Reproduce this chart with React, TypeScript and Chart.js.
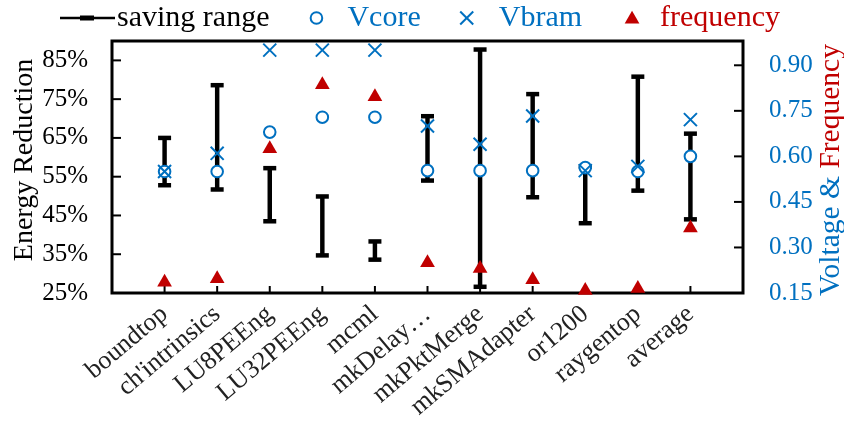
import React, { useEffect, useRef } from 'react';
import { Chart, registerables } from 'chart.js';

Chart.register(...registerables);

const categories = ['boundtop', "ch'intrinsics", 'LU8PEEng', 'LU32PEEng', 'mcml', 'mkDelay…', 'mkPktMerge', 'mkSMAdapter', 'or1200', 'raygentop', 'average'];
const savingLow = [52.8, 51.7, 43.5, 34.7, 33.6, 54.0, 26.6, 49.7, 43.0, 51.4, 44.0];
const savingHigh = [65.0, 78.6, 57.2, 49.9, 38.3, 70.6, 87.8, 76.3, 57.6, 80.8, 66.1];
const vcore = [0.55, 0.55, 0.68, 0.729, 0.729, 0.553, 0.553, 0.553, 0.563, 0.55, 0.6];
const vbram = [0.55, 0.61, 0.95, 0.95, 0.95, 0.7, 0.64, 0.733, 0.553, 0.567, 0.721];
const frequency = [0.185, 0.197, 0.625, 0.836, 0.796, 0.25, 0.231, 0.194, 0.158, 0.165, 0.364];
const leftTicks = [25, 35, 45, 55, 65, 75, 85];
const rightTicks = [0.15, 0.3, 0.45, 0.6, 0.75, 0.9];

const BLUE = '#0070C0';
const RED = '#C00000';
const FONT = '"Liberation Serif", "Times New Roman", serif';

function seg(ctx: CanvasRenderingContext2D, x1: number, y1: number, x2: number, y2: number) {
  ctx.beginPath();
  ctx.moveTo(x1, y1);
  ctx.lineTo(x2, y2);
  ctx.stroke();
}

const decor = {
  id: 'decor',
  beforeDatasetsDraw(chart: any) {
    const { ctx, chartArea: a, scales } = chart;
    ctx.save();
    ctx.strokeStyle = '#000';
    ctx.lineWidth = 2;
    for (const v of leftTicks) {
      const y = scales.y.getPixelForValue(v);
      seg(ctx, a.left, y, a.left + 9, y);
    }
    for (const v of rightTicks) {
      const y = scales.y2.getPixelForValue(v);
      seg(ctx, a.right - 9, y, a.right, y);
    }
    categories.forEach((_, i) => {
      const x = scales.x.getPixelForValue(i + 1);
      seg(ctx, x, a.bottom, x, a.bottom - 7);
    });
    ctx.lineWidth = 3;
    ctx.strokeRect(a.left, a.top, a.right - a.left, a.bottom - a.top);
    ctx.restore();
  },
  afterDraw(chart: any) {
    const { ctx } = chart;
    ctx.save();
    // legend
    ctx.font = `30px ${FONT}`;
    ctx.textBaseline = 'middle';
    ctx.textAlign = 'left';
    const y = 18;
    ctx.strokeStyle = '#000';
    ctx.lineWidth = 2.5;
    seg(ctx, 60, y, 115, y);
    ctx.lineWidth = 5;
    seg(ctx, 80, y, 94, y);
    ctx.fillStyle = '#000';
    ctx.fillText('saving range', 117, y);
    let x = 117 + ctx.measureText('saving range').width + 47;
    ctx.strokeStyle = BLUE;
    ctx.lineWidth = 2;
    ctx.beginPath();
    ctx.arc(x, y, 5.8, 0, Math.PI * 2);
    ctx.stroke();
    ctx.fillStyle = BLUE;
    ctx.fillText('Vcore', x + 31, y);
    x = x + 31 + ctx.measureText('Vcore').width + 46;
    seg(ctx, x - 6.5, y - 6.5, x + 6.5, y + 6.5);
    seg(ctx, x - 6.5, y + 6.5, x + 6.5, y - 6.5);
    ctx.fillText('Vbram', x + 32, y);
    x = x + 32 + ctx.measureText('Vbram').width + 50;
    ctx.fillStyle = RED;
    const r = 8.5;
    ctx.beginPath();
    ctx.moveTo(x, y - r * 0.75 - 1);
    ctx.lineTo(x + r * 0.866, y + r * 0.75 - 1);
    ctx.lineTo(x - r * 0.866, y + r * 0.75 - 1);
    ctx.closePath();
    ctx.fill();
    ctx.fillText('frequency', x + 28, y);

    // left title
    ctx.font = `28px ${FONT}`;
    ctx.fillStyle = '#000';
    ctx.save();
    ctx.translate(25, 160);
    ctx.rotate(-Math.PI / 2);
    ctx.textAlign = 'center';
    ctx.fillText('Energy Reduction', 0, 0);
    ctx.restore();

    // right title
    ctx.font = `29.5px ${FONT}`;
    ctx.save();
    ctx.translate(831, 170);
    ctx.rotate(-Math.PI / 2);
    ctx.textAlign = 'left';
    const p1 = 'Voltage & ';
    const p2 = 'Frequency';
    const w1 = ctx.measureText(p1).width;
    const w2 = ctx.measureText(p2).width;
    const start = -(w1 + w2) / 2;
    ctx.fillStyle = BLUE;
    ctx.fillText(p1, start, 0);
    ctx.fillStyle = RED;
    ctx.fillText(p2, start + w1, 0);
    ctx.restore();
    ctx.restore();
  },
};

export default function App() {
  const ref = useRef<HTMLCanvasElement | null>(null);
  useEffect(() => {
    if (!ref.current) return;
    const pts = (arr: number[]) => arr.map((v, i) => ({ x: i + 1, y: v }));
    const chart = new Chart(ref.current, {
      type: 'scatter',
      data: {
        datasets: [
          {
            type: 'bar',
            label: 'saving range',
            data: categories.map((_, i) => ({ x: i + 1, y: [savingLow[i], savingHigh[i]] })) as any,
            backgroundColor: '#000',
            borderWidth: 0,
            barThickness: 3.8,
            yAxisID: 'y',
            order: 4,
          } as any,
          {
            label: 'low',
            data: pts(savingLow),
            pointStyle: 'line',
            radius: 6.5,
            borderWidth: 4.5,
            borderColor: '#000',
            yAxisID: 'y',
            order: 3,
          },
          {
            label: 'high',
            data: pts(savingHigh),
            pointStyle: 'line',
            radius: 6.5,
            borderWidth: 4.5,
            borderColor: '#000',
            yAxisID: 'y',
            order: 3,
          },
          {
            label: 'Vcore',
            data: pts(vcore),
            pointStyle: 'circle',
            radius: 5.8,
            borderWidth: 2,
            borderColor: BLUE,
            backgroundColor: '#fff',
            yAxisID: 'y2',
            order: 2,
          },
          {
            label: 'Vbram',
            data: pts(vbram),
            pointStyle: 'crossRot',
            radius: 9.2,
            borderWidth: 2,
            borderColor: BLUE,
            yAxisID: 'y2',
            order: 1,
          },
          {
            label: 'frequency',
            data: pts(frequency),
            pointStyle: 'triangle',
            radius: 8.5,
            borderWidth: 0,
            backgroundColor: RED,
            borderColor: RED,
            yAxisID: 'y2',
            order: 0,
          },
        ] as any,
      },
      options: {
        animation: false,
        responsive: true,
        maintainAspectRatio: false,
        events: [],
        clip: false as any,
        layout: { padding: { top: 38, left: 0, right: 0, bottom: 0 } },
        plugins: { legend: { display: false }, tooltip: { enabled: false } },
        scales: {
          x: {
            type: 'linear',
            min: 0,
            max: 12,
            offset: false,
            grid: { display: false, drawTicks: false, offset: false },
            border: { display: false },
            afterBuildTicks: (s: any) => {
              s.ticks = categories.map((_, i) => ({ value: i + 1 }));
            },
            afterFit: (s: any) => {
              s.height = 128;
            },
            ticks: {
              autoSkip: false,
              minRotation: 40,
              maxRotation: 40,
              padding: 6,
              color: '#222',
              font: { family: FONT, size: 26 },
              callback: (v: any) => categories[Number(v) - 1] ?? '',
            },
          },
          y: {
            type: 'linear',
            position: 'left',
            min: 25,
            max: 90,
            grid: { display: false, drawTicks: false },
            border: { display: false },
            afterBuildTicks: (s: any) => {
              s.ticks = leftTicks.map((v) => ({ value: v }));
            },
            afterFit: (s: any) => {
              s.width = 112;
            },
            ticks: {
              padding: 24,
              color: '#000',
              font: { family: FONT, size: 25 },
              callback: (v: any) => `${v}%`,
            },
          },
          y2: {
            type: 'linear',
            position: 'right',
            min: 0.15,
            max: 0.98,
            grid: { display: false, drawTicks: false },
            border: { display: false },
            afterBuildTicks: (s: any) => {
              s.ticks = rightTicks.map((v) => ({ value: v }));
            },
            afterFit: (s: any) => {
              s.width = 101;
            },
            ticks: {
              padding: 26,
              color: BLUE,
              font: { family: FONT, size: 25 },
              callback: (v: any) => Number(v).toFixed(2),
            },
          },
        },
      } as any,
      plugins: [decor],
    });
    return () => chart.destroy();
  }, []);
  return (
    <div style={{ position: 'fixed', left: 0, top: 0, width: 844, height: 421, background: '#fff' }}>
      <canvas ref={ref} />
    </div>
  );
}
